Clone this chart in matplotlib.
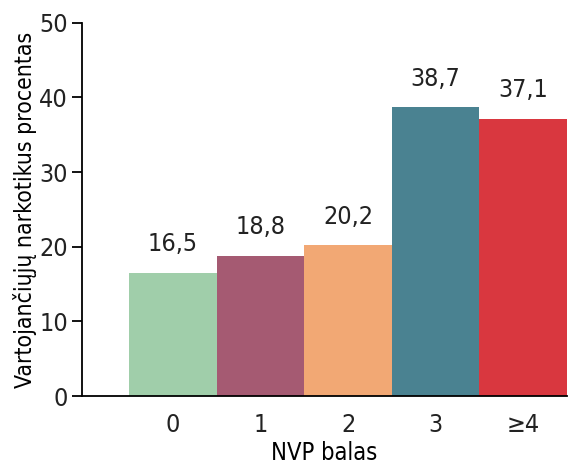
import matplotlib.pyplot as plt

categories = ['0', '1', '2', '3', '≥4']
values = [16.5, 18.8, 20.2, 38.7, 37.1]
colors = ['#A0CEAA', '#A55A72', '#F2A874', '#4A8291', '#D9373F']

plt.rcParams['font.family'] = ['DejaVu Sans']
plt.rcParams['font.stretch'] = 'condensed'
plt.rcParams['text.color'] = '#222222'

fig = plt.figure(figsize=(5.82, 4.66), dpi=100)
ax = fig.add_axes([0.141, 0.150, 0.833, 0.801])

x = list(range(len(categories)))
ax.bar(x, values, width=1.0, color=colors)

for xi, v in zip(x, values):
    ax.annotate(f'{v:.1f}'.replace('.', ','), (xi, v), xytext=(0, 12),
                textcoords='offset points', ha='center', va='bottom', fontsize=18)

ax.set_xlim(-1.04, 4.5)
ax.set_ylim(0, 50)
ax.set_yticks(range(0, 51, 10))
ax.set_xticks(x)
ax.set_xticklabels(categories)
ax.tick_params(axis='y', length=7, width=1.3, labelsize=18, pad=3, labelcolor='#222222')
ax.tick_params(axis='x', length=0, labelsize=18, pad=12, labelcolor='#222222')
ax.set_xlabel('NVP balas', fontsize=17, labelpad=3)
ax.set_ylabel('Vartojančiųjų narkotikus procentas', fontsize=16.5, labelpad=2)

for s in ['top', 'right']:
    ax.spines[s].set_visible(False)
for s in ['left', 'bottom']:
    ax.spines[s].set_linewidth(1.3)

fig.savefig('out.png', dpi=100)
